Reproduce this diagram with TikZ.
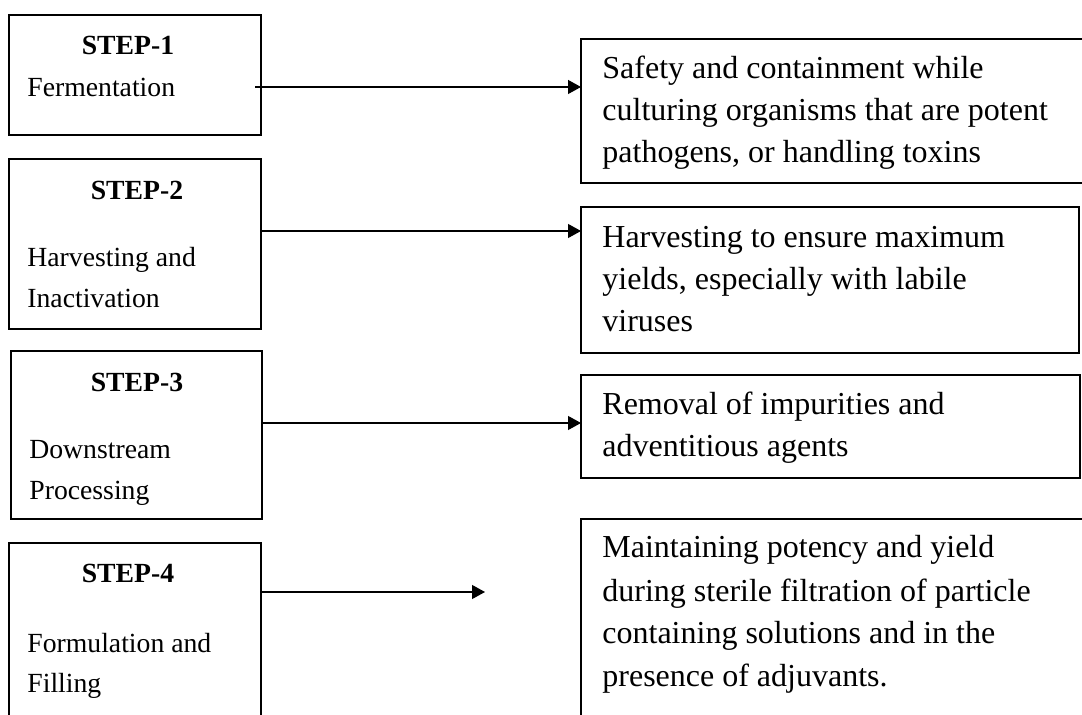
\documentclass[tikz,border=0pt]{standalone}
\usepackage{fontspec}
\setmainfont{Liberation Serif}
\usetikzlibrary{arrows.meta,positioning}

\begin{document}
\begin{tikzpicture}[x=0.5pt,y=-0.5pt,
  stepbox/.style={draw,line width=0.6pt,anchor=north west,inner sep=0pt,outer sep=0pt},
  notebox/.style={draw,line width=0.6pt,anchor=north west,inner sep=0pt,outer sep=0pt},
  steptitle/.style={anchor=base,inner sep=0pt,font=\bfseries\fontsize{13.85pt}{20.5pt}\selectfont},
  steptext/.style={anchor=base west,inner sep=0pt,align=left,font=\fontsize{13.85pt}{20.5pt}\selectfont},
  notetext/.style={anchor=base west,inner sep=0pt,align=left,font=\fontsize{16pt}{21pt}\selectfont},
  arr/.style={-{Triangle[length=6.5pt,width=7pt]},line width=0.6pt}]
  \useasboundingbox (0,0) rectangle (1082,715);
  % left column: the steps (text placed by its last baseline)
  \node[stepbox,minimum width=126pt,minimum height=60pt] (s1) at (9,15) {};
  \node[stepbox,minimum width=126pt,minimum height=85pt] (s2) at (9,159) {};
  \node[stepbox,minimum width=125.5pt,minimum height=84pt] (s3) at (11,351) {};
  \node[stepbox,minimum width=126pt,minimum height=110pt] (s4) at (9,543) {};
  \node[steptitle] (t1) at (128,55) {STEP-1};
  \node[steptext] (x1) at (27,97) {Fermentation};
  \node[steptitle] (t2) at (137,200) {STEP-2};
  \node[steptext] (x2) at (27,308) {Harvesting and\\Inactivation};
  \node[steptitle] (t3) at (137,392) {STEP-3};
  \node[steptext] (x3) at (29,500) {Downstream\\Processing};
  \node[steptitle] (t4) at (128,583) {STEP-4};
  \node[steptext] (x4) at (27,693) {Formulation and\\Filling};
  % right column: what each step has to take care of
  \node[notebox,minimum width=262pt,minimum height=72pt] (d1) at (581,39) {};
  \node[notebox,minimum width=249pt,minimum height=73pt] (d2) at (581,207) {};
  \node[notebox,minimum width=249.5pt,minimum height=51.5pt] (d3) at (581,375) {};
  \node[notebox,minimum width=262pt,minimum height=110pt] (d4) at (581,519) {};
  \node[notetext] (n1) at (602,163) {Safety and containment while\\culturing organisms that are potent\\pathogens, or handling toxins};
  \node[notetext] (n2) at (602,332) {Harvesting to ensure maximum\\yields, especially with labile\\viruses};
  \node[notetext] (n3) at (602,457) {Removal of impurities and\\adventitious agents};
  \node[notetext,font=\fontsize{16pt}{21.5pt}\selectfont] (n4) at (602,687) {Maintaining potency and yield\\during sterile filtration of particle\\containing solutions and in the\\presence of adjuvants.};
  % arrows
  \coordinate (f4) at (485,592);
  \draw[arr] ([xshift=-3pt]s1.east |- 0,87) -- (d1.west |- 0,87);
  \draw[arr] (s2.east |- 0,231) -- (d2.west |- 0,231);
  \draw[arr] (s3.east |- 0,423) -- (d3.west |- 0,423);
  \draw[arr] (s4.east |- f4) -- (f4);
\end{tikzpicture}
\end{document}
